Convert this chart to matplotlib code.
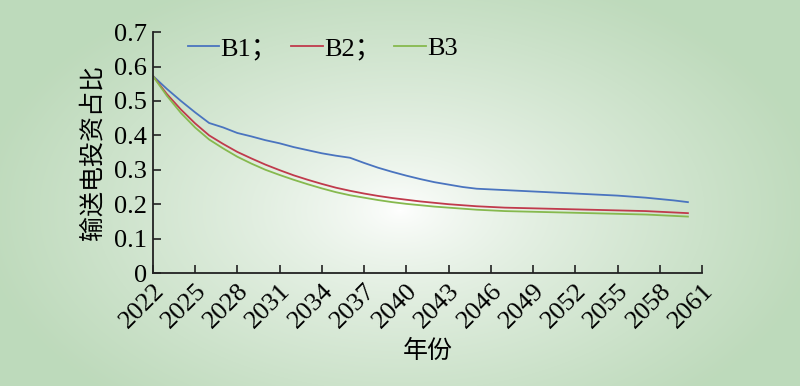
import numpy as np
import matplotlib

matplotlib.use("Agg")
import matplotlib.pyplot as plt

plt.rcParams["font.family"] = ["Liberation Serif", "Noto Sans CJK SC", "DejaVu Sans"]

years = list(range(2022, 2061))
b1 = [0.573, 0.535, 0.500, 0.467, 0.436, 0.423, 0.407, 0.397, 0.386, 0.377,
      0.366, 0.357, 0.348, 0.341, 0.335, 0.320, 0.306, 0.294, 0.283, 0.273,
      0.264, 0.257, 0.250, 0.245, 0.243, 0.241, 0.239, 0.237, 0.235, 0.233,
      0.231, 0.229, 0.227, 0.225, 0.222, 0.219, 0.215, 0.211, 0.206]
b2 = [0.573, 0.520, 0.475, 0.435, 0.400, 0.375, 0.352, 0.333, 0.315, 0.299,
      0.284, 0.271, 0.259, 0.248, 0.239, 0.231, 0.224, 0.218, 0.213, 0.208,
      0.204, 0.200, 0.197, 0.194, 0.192, 0.190, 0.189, 0.188, 0.187, 0.186,
      0.185, 0.184, 0.183, 0.182, 0.181, 0.180, 0.178, 0.176, 0.174]
b3 = [0.573, 0.515, 0.465, 0.423, 0.388, 0.362, 0.338, 0.318, 0.300, 0.285,
      0.271, 0.258, 0.246, 0.235, 0.226, 0.219, 0.212, 0.206, 0.201, 0.197,
      0.193, 0.190, 0.187, 0.184, 0.182, 0.180, 0.179, 0.178, 0.177, 0.176,
      0.175, 0.174, 0.173, 0.172, 0.171, 0.170, 0.168, 0.166, 0.164]
series_labels = ["B1；", "B2；", "B3"]
series_colors = ["#4a74bf", "#c03a4c", "#86b94e"]
x_ticks = list(range(2022, 2062, 3))
y_ticks = [0, 0.1, 0.2, 0.3, 0.4, 0.5, 0.6, 0.7]
y_labels = ["0", "0.1", "0.2", "0.3", "0.4", "0.5", "0.6", "0.7"]

fig = plt.figure(figsize=(8, 3.86), dpi=100)

# soft radial green background, whitish near the middle
bg = fig.add_axes([0, 0, 1, 1], zorder=-10)
w, h = 800, 386
gx, gy = np.meshgrid(np.arange(w), np.arange(h))
d = np.sqrt(((gx - 400) / 420.0) ** 2 + ((gy - 210) / 250.0) ** 2)
t = np.clip(d, 0, 1) ** 0.75
green = np.array([0.745, 0.855, 0.735])
img = (1 - t)[..., None] * np.ones(3) + t[..., None] * green
bg.imshow(img, aspect="auto", extent=[0, 1, 0, 1], origin="upper")
bg.axis("off")

ax = fig.add_axes([0.191, 0.2927, 0.6865, 0.624])
ax.set_facecolor("none")

for vals, lab, col in zip([b1, b2, b3], series_labels, series_colors):
    ax.plot(years, vals, color=col, lw=1.3, label=lab)

ax.set_xlim(2022, 2061)
ax.set_ylim(0, 0.7)
ax.set_xticks(x_ticks)
ax.set_xticklabels([str(v) for v in x_ticks], rotation=45, ha="right",
                   rotation_mode="anchor", fontsize=19)
ax.set_yticks(y_ticks)
ax.set_yticklabels(y_labels, fontsize=19)
ax.tick_params(axis="both", direction="in", length=6, width=1.2, color="#222222")
ax.tick_params(axis="x", pad=5)
ax.tick_params(axis="y", pad=4)
for s in ["top", "right"]:
    ax.spines[s].set_visible(False)
for s in ["left", "bottom"]:
    ax.spines[s].set_linewidth(1.3)
    ax.spines[s].set_color("#222222")

ax.set_ylabel("输送电投资占比", fontsize=18, family="Noto Sans CJK SC", labelpad=6)
ax.set_xlabel("年份", fontsize=18, family="Noto Sans CJK SC", labelpad=4)

ax.legend(loc="upper left", bbox_to_anchor=(0.02, 1.08), ncol=3, frameon=False,
          fontsize=19, handlelength=1.2, handletextpad=0.05, columnspacing=0.5)

fig.savefig("out.png", dpi=100)
